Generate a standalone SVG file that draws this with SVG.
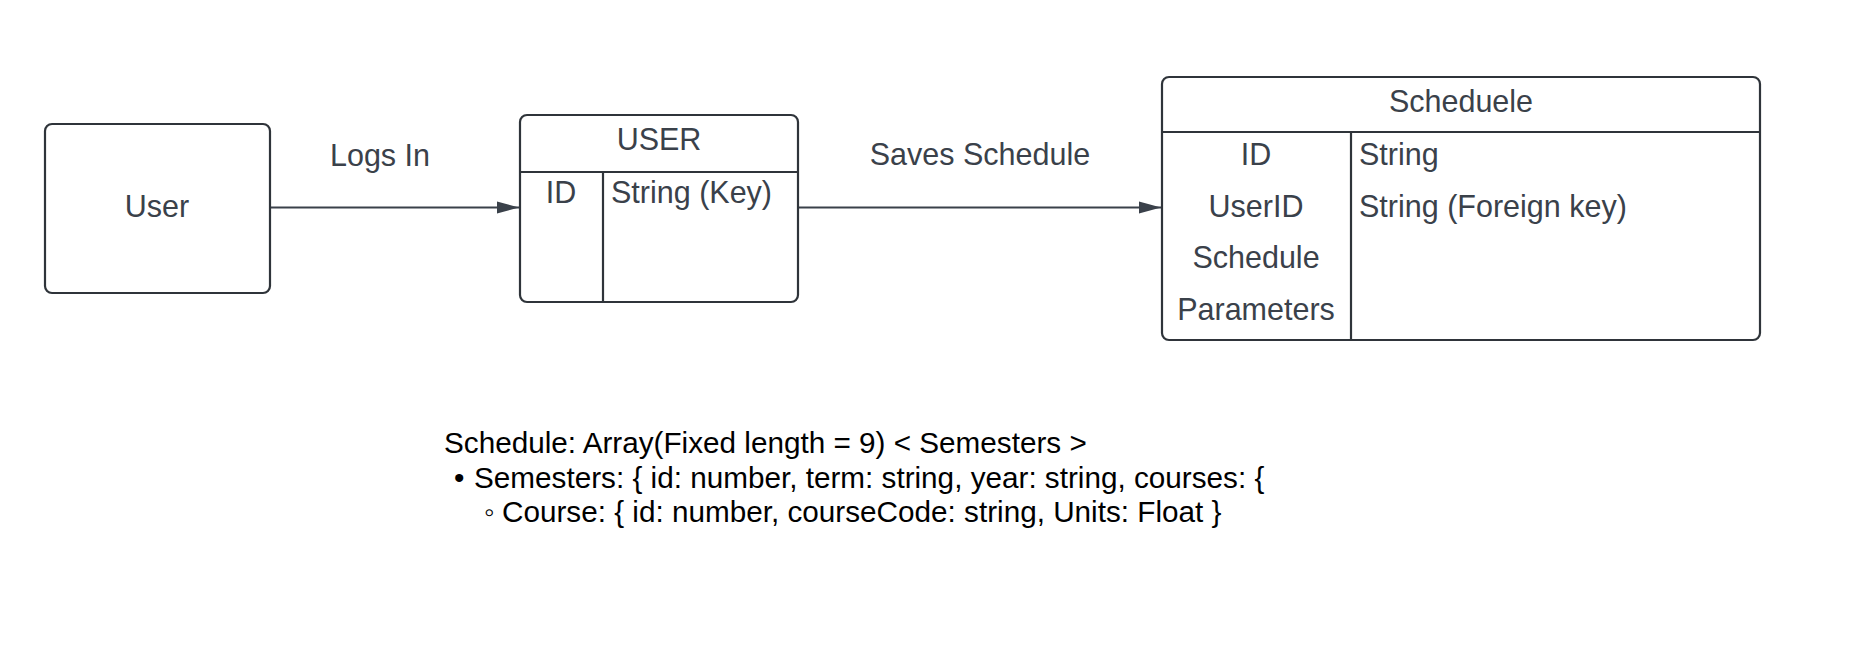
<svg xmlns="http://www.w3.org/2000/svg" width="1876" height="670" viewBox="0 0 1876 670">
  <style>
    .box { fill: #ffffff; stroke: #2f343a; stroke-width: 2.2; }
    .div { stroke: #2f343a; stroke-width: 2.2; fill: none; }
    .lbl { font-family: "Liberation Sans", Arial, sans-serif; font-size: 30.5px; fill: #3a414a; }
    .c { text-anchor: middle; }
    .note { font-family: "Liberation Sans", Arial, sans-serif; font-size: 29.7px; fill: #000000; }
    .conn { stroke: #3a414a; stroke-width: 1.8; fill: none; }
  </style>
  <defs>
    <marker id="arrow" markerUnits="userSpaceOnUse" markerWidth="24" markerHeight="14" refX="23" refY="7" orient="auto">
      <path d="M1,1 L23,7 L1,13 Z" fill="#3a414a"/>
    </marker>
  </defs>
  <rect width="1876" height="670" fill="#ffffff"/>

  <g id="connectors">
    <line class="conn" x1="270" y1="207.5" x2="519" y2="207.5" marker-end="url(#arrow)"/>
    <text class="lbl c" x="380" y="166">Logs In</text>
    <line class="conn" x1="798" y1="207.5" x2="1161" y2="207.5" marker-end="url(#arrow)"/>
    <text class="lbl c" x="980" y="165">Saves Schedule</text>
  </g>

  <g id="node-user">
    <rect class="box" x="45" y="124" width="225" height="169" rx="7"/>
    <text class="lbl c" x="157" y="217">User</text>
  </g>

  <g id="node-user-table">
    <rect class="box" x="520" y="115" width="278" height="187" rx="7"/>
    <line class="div" x1="520" y1="172" x2="798" y2="172"/>
    <line class="div" x1="603" y1="172" x2="603" y2="302"/>
    <text class="lbl c" x="659" y="150">USER</text>
    <text class="lbl c" x="561" y="203">ID</text>
    <text class="lbl" x="611" y="203">String (Key)</text>
  </g>

  <g id="node-schedule-table">
    <rect class="box" x="1162" y="77" width="598" height="263" rx="7"/>
    <line class="div" x1="1162" y1="132" x2="1760" y2="132"/>
    <line class="div" x1="1351" y1="132" x2="1351" y2="340"/>
    <text class="lbl c" x="1461" y="112">Scheduele</text>
    <text class="lbl c" x="1256" y="165">ID</text>
    <text class="lbl c" x="1256" y="217">UserID</text>
    <text class="lbl c" x="1256" y="268">Schedule</text>
    <text class="lbl c" x="1256" y="320">Parameters</text>
    <text class="lbl" x="1359" y="165">String</text>
    <text class="lbl" x="1359" y="217">String (Foreign key)</text>
  </g>

  <g id="schema-note">
    <text class="note" x="444" y="453">Schedule: Array(Fixed length = 9) &lt; Semesters &gt;</text>
    <text class="note" x="454" y="488">•</text>
    <text class="note" x="474" y="488">Semesters: { id: number, term: string, year: string, courses: {</text>
    <text class="note" x="484" y="522">◦</text>
    <text class="note" x="502" y="522">Course: { id: number, courseCode: string, Units: Float }</text>
  </g>
</svg>
